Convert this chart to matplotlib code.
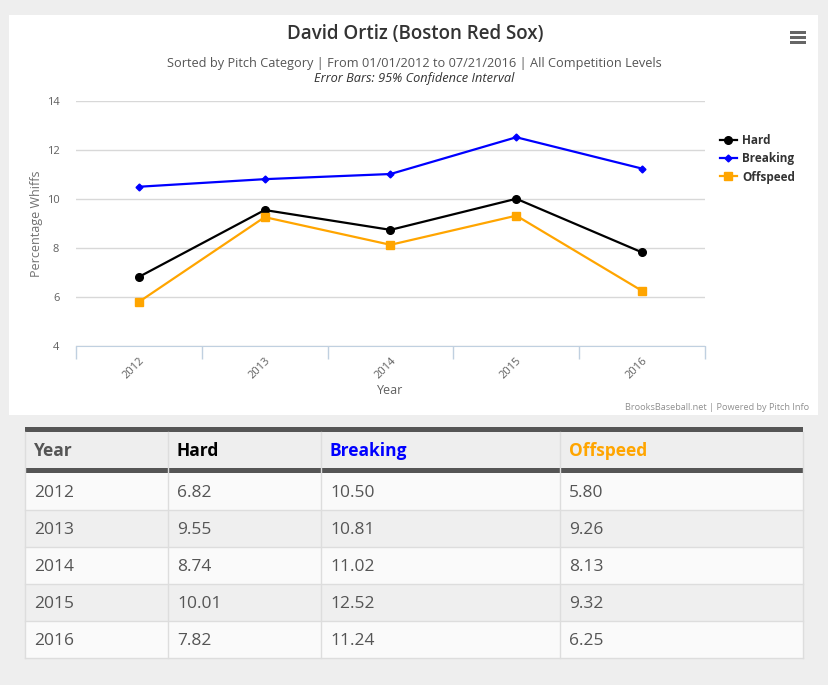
import matplotlib
matplotlib.use("Agg")
import matplotlib.pyplot as plt
from matplotlib.patches import Rectangle

years = ["2012", "2013", "2014", "2015", "2016"]
hard = [6.82, 9.55, 8.74, 10.01, 7.82]
breaking = [10.50, 10.81, 11.02, 12.52, 11.24]
offspeed = [5.80, 9.26, 8.13, 9.32, 6.25]

series_names = ["Hard", "Breaking", "Offspeed"]
series_colors = ["#000000", "#0000FF", "#FFA500"]
series_markers = ["o", "D", "s"]

W, H = 829, 685
FONT = ["Open Sans", "DejaVu Sans"]
plt.rcParams["font.family"] = FONT


def fx(x):
    return x / W


def fy(y):
    return 1 - y / H


fig = plt.figure(figsize=(W / 100, H / 100), dpi=100, facecolor="#EEEEEE")

# pixel-space layer for the panel, menu icon and table
bg = fig.add_axes([0, 0, 1, 1], zorder=0)
bg.set_xlim(0, W)
bg.set_ylim(H, 0)
bg.axis("off")

bg.add_patch(Rectangle((9, 15), 809, 400, facecolor="white", edgecolor="none"))

# menu icon
for yy in [31, 36, 41]:
    bg.add_patch(Rectangle((790, yy), 16, 3, facecolor="#666666", edgecolor="none"))

bg.text(415, 34, "David Ortiz (Boston Red Sox)", fontsize=13.5, fontweight="semibold",
        color="#333333", ha="center", va="center")
bg.text(414, 63, "Sorted by Pitch Category | From 01/01/2012 to 07/21/2016 | All Competition Levels",
        fontsize=9.2, color="#555555", ha="center", va="center")
bg.text(414, 78, "Error Bars: 95% Confidence Interval", fontsize=9.2, color="#333333",
        style="italic", ha="center", va="center")
bg.text(809, 407, "BrooksBaseball.net | Powered by Pitch Info", fontsize=6.6, color="#909090",
        ha="right", va="center")

# chart
ax = fig.add_axes([fx(76), fy(346), (705 - 76) / W, (346 - 101) / H], zorder=1)
xs = list(range(len(years)))
for vals, name, col, mk in zip([hard, breaking, offspeed], series_names, series_colors, series_markers):
    ms = 3.5 if mk == "D" else 5.5
    ax.plot(xs, vals, color=col, lw=1.6, marker=mk, ms=ms, label=name, clip_on=False)

ax.set_xlim(-0.5, len(years) - 0.5)
ax.set_ylim(4, 14)
ax.set_yticks([4, 6, 8, 10, 12, 14])
ax.set_xticks(xs)
ax.set_xticklabels(years)
ax.set_xticks([x - 0.5 for x in range(len(years) + 1)], minor=True)
ax.tick_params(axis="x", which="major", length=0, pad=7, labelsize=8, labelcolor="#606060")
ax.tick_params(axis="x", which="minor", length=9, color="#C0D0E0", width=1)
ax.tick_params(axis="y", length=0, pad=12, labelsize=8, labelcolor="#606060")
plt.setp(ax.get_xticklabels(), rotation=45, ha="right", rotation_mode="anchor")
ax.grid(axis="y", color="#D8D8D8", lw=1)
ax.set_axisbelow(True)
for s in ["top", "right", "left"]:
    ax.spines[s].set_visible(False)
ax.spines["bottom"].set_color("#C0D0E0")

ax.set_ylabel("Percentage Whiffs", fontsize=9, color="#707070")
ax.yaxis.set_label_coords(-0.053, 0.5)
ax.set_xlabel("Year", fontsize=9, color="#606060")
ax.xaxis.set_label_coords(0.5, -0.157)

leg = ax.legend(loc="upper left", bbox_to_anchor=(fx(720), fy(134)), bbox_transform=fig.transFigure,
                frameon=False, prop={"weight": "bold", "size": 8.5}, handlelength=1.4,
                handletextpad=0.5, labelspacing=0.45, borderpad=0, borderaxespad=0)
for t in leg.get_texts():
    t.set_color("#333333")

# table
col_x = [25, 168, 321, 560, 803]
head_top, head_bot = 432, 468
row_top = 473
row_h = 37
header_colors = ["#555555", "#000000", "#0000FF", "#FFA500"]
headers = ["Year"] + series_names

bg.add_patch(Rectangle((col_x[0], head_top), col_x[-1] - col_x[0], head_bot - head_top,
                       facecolor="#EEEEEE", edgecolor="none"))
for i in range(len(years)):
    fc = "#FAFAFA" if i % 2 == 0 else "#EFEFEF"
    bg.add_patch(Rectangle((col_x[0], row_top + i * row_h), col_x[-1] - col_x[0], row_h,
                           facecolor=fc, edgecolor="none"))
    bg.plot([col_x[0], col_x[-1]], [row_top + (i + 1) * row_h] * 2, color="#DDDDDD", lw=1)
table_bot = row_top + len(years) * row_h
for x in col_x:
    bg.plot([x, x], [head_top, table_bot], color="#DDDDDD", lw=1)
bg.add_patch(Rectangle((col_x[0], 427), col_x[-1] - col_x[0], 5, facecolor="#555555", edgecolor="none"))
bg.add_patch(Rectangle((col_x[0], 468), col_x[-1] - col_x[0], 5, facecolor="#555555", edgecolor="none"))

for j, (h, c) in enumerate(zip(headers, header_colors)):
    bg.text(col_x[j] + 9, 451, h, fontsize=12.5, fontweight="bold", color=c, ha="left", va="center")

cols = [years,
        [f"{v:.2f}" for v in hard],
        [f"{v:.2f}" for v in breaking],
        [f"{v:.2f}" for v in offspeed]]
for j, col in enumerate(cols):
    for i, v in enumerate(col):
        bg.text(col_x[j] + 9, row_top + i * row_h + row_h / 2 + 1.5, v, fontsize=12.5,
                color="#555555", ha="left", va="center")

fig.savefig("out.png", dpi=100, facecolor=fig.get_facecolor())
